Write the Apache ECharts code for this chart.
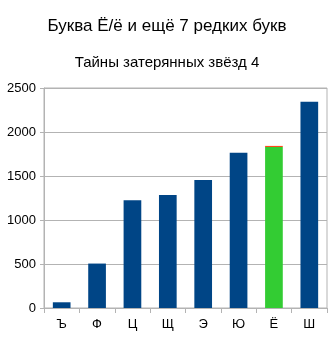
<!DOCTYPE html>
<html><head><meta charset="utf-8">
<script src="https://cdn.jsdelivr.net/npm/echarts@6/dist/echarts.min.js"></script>
<style>html,body{margin:0;padding:0;background:#fff}#c{width:334px;height:340px}</style>
</head><body><div id="c"></div>
<script>
const categories = ['Ъ','Ф','Ц','Щ','Э','Ю','Ё','Ш'];
const mainValues = [65, 505, 1225, 1285, 1455, 1765, 1830, 2345];
const topValues = [0, 0, 0, 0, 0, 0, 12, 0];
const yTicks = [0, 500, 1000, 1500, 2000, 2500];
const titleText = 'Буква Ё/ё и ещё 7 редких букв';
const subtitleText = 'Тайны затерянных звёзд 4';

const chart = echarts.init(document.getElementById('c'), null, {renderer:'canvas'});
const font = 'Liberation Sans, Arial, sans-serif';
chart.setOption({
  animation:false,
  title:[
    {text:titleText, left:'center', top:13, textStyle:{fontFamily:font, fontSize:17, fontWeight:'normal', color:'#000'}},
    {text:subtitleText, left:'center', top:50, textStyle:{fontFamily:font, fontSize:15, fontWeight:'normal', color:'#000'}}
  ],
  grid:{left:44, right:7, top:88, bottom:32, show:true, borderColor:'#b3b3b3', borderWidth:1},
  xAxis:{type:'category', data:categories, boundaryGap:true,
    axisLine:{lineStyle:{color:'#b3b3b3'}},
    axisTick:{show:true, length:5, alignWithLabel:false, lineStyle:{color:'#b3b3b3'}},
    axisLabel:{fontFamily:font, fontSize:13, color:'#000', margin:10}},
  yAxis:{type:'value', min:yTicks[0], max:yTicks[yTicks.length-1], interval:500,
    axisLine:{show:true, lineStyle:{color:'#b3b3b3'}},
    axisTick:{show:true, length:4, lineStyle:{color:'#b3b3b3'}},
    splitLine:{lineStyle:{color:'#b3b3b3'}},
    axisLabel:{fontFamily:font, fontSize:13, color:'#000', margin:8, formatter:v=>String(v)}},
  series:[
    {type:'bar', stack:'s', barWidth:'50%', data:mainValues.map((v,i)=>({value:v, itemStyle:{color: categories[i]==='Ё' ? '#33cc33' : '#004586'}}))},
    {type:'bar', stack:'s', barWidth:'50%', data:topValues.map(v=>v===0?'-':v), itemStyle:{color:'#ff420e'}}
  ]
});
</script></body></html>
